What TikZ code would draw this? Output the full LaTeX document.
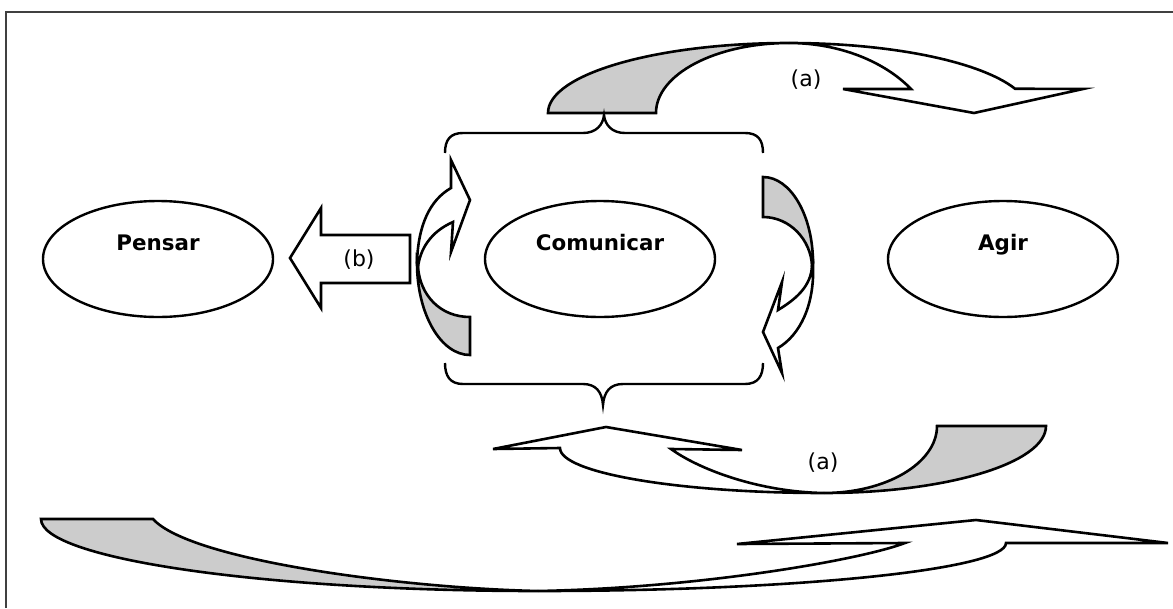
\documentclass[tikz,border=0pt]{standalone}
\usepackage{fontspec}
\setmainfont{DejaVu Sans}
\usetikzlibrary{shapes.geometric}

\begin{document}
\begin{tikzpicture}[x=1pt,y=-1pt,line join=miter,
    bubble/.style={draw,ellipse,line width=2.4pt,minimum width=230pt,minimum height=116pt,inner sep=0pt,
        font=\bfseries\fontsize{21.4}{24}\selectfont,text height=16pt,text depth=34pt},
    tag/.style={anchor=base,inner sep=0pt,font=\fontsize{22}{24}\selectfont},
    band/.style={draw,line width=2.6pt,fill=white},
    back/.style={band,fill=gray!40},
    brace/.style={draw,line width=2.4pt}]

    \useasboundingbox (0,0) rectangle (1173,608);
    \draw[line width=1.5pt,black!75] (6,608) -- (6,12) -- (1173,12);

    % 设置节点(椭圆)
    \node[bubble] (pensar)    at (158,259) {Pensar};
    \node[bubble] (comunicar) at (600,259) {Comunicar};
    \node[bubble] (agir)      at (1003,259) {Agir};

    % 1. 上面的弯箭头 (a)
    \draw[back] (548,113) arc[start angle=180,end angle=270,x radius=241,y radius=70]
        arc[start angle=270,end angle=180,x radius=133,y radius=70] -- cycle;
    \draw[band] (789,43) arc[start angle=270,end angle=339.7,x radius=241,y radius=70]
        -- (1083,89) -- (974,113) -- (843,89) -- (911,89)
        .. controls (885,62) and (840,43) .. (789,43) -- cycle;
    \node[tag] (atop) at (806,86) {(a)};

    % 2. 大括号
    \draw[brace] (445,153) .. controls (445,140) and (450,133) .. (463,133) -- (583,133)
        .. controls (596,133) and (603,125) .. (604,115)
        .. controls (605,125) and (612,133) .. (625,133) -- (745,133)
        .. controls (758,133) and (763,140) .. (763,153);
    \draw[brace] (445,363) .. controls (445,376) and (450,384) .. (463,384) -- (583,384)
        .. controls (596,384) and (602,392) .. (603,405)
        .. controls (604,392) and (610,384) .. (623,384) -- (745,384)
        .. controls (758,384) and (763,376) .. (763,363);

    % 3. 左右两边的弯箭头
    \draw[back] (470,355) arc[start angle=90,end angle=180,x radius=53,y radius=92]
        -- (418,267) .. controls (420,295) and (440,317) .. (470,317) -- cycle;
    \draw[band] (417,263) .. controls (418,225) and (430,200) .. (451,188)
        -- (451,160) -- (470,200) -- (451,252) -- (453,222)
        .. controls (430,232) and (420,250) .. (418,267) -- cycle;
    \draw[back] (763,177) arc[start angle=270,end angle=360,x radius=50,y radius=86]
        -- (812,266) .. controls (811,240) and (790,217) .. (763,217) -- cycle;
    \draw[band] (813,263) .. controls (815,305) and (800,335) .. (778,348)
        -- (782,373) -- (763,332) -- (782,282) -- (778,310)
        .. controls (798,298) and (811,285) .. (812,266) -- cycle;

    % 4. 箭头 (b)
    \draw[band] (290,258) -- (321,208) -- (321,235) -- (410,235) -- (410,283)
        -- (321,283) -- (321,308) -- cycle;
    \node[tag] (b) at (359,266) {(b)};

    % 5. 下面的弯箭头 (a)
    \draw[back] (1046,426) arc[start angle=0,end angle=90,x radius=222,y radius=67]
        arc[start angle=90,end angle=0,x radius=113,y radius=67] -- cycle;
    \draw[band] (560,448) arc[start angle=180,end angle=90,x radius=264,y radius=45]
        .. controls (760,492) and (700,470) .. (671,449)
        -- (742,450) -- (606,427) -- (493,449) -- cycle;
    \node[tag] (abot) at (823,469) {(a)};

    % 6. 最下面的大弯箭头
    \draw[back] (41,519) arc[start angle=180,end angle=90,x radius=497,y radius=72]
        .. controls (400,588) and (190,560) .. (153,519) -- cycle;
    \draw[band] (1006,543) arc[start angle=0,end angle=90,x radius=468,y radius=48]
        .. controls (700,588) and (860,560) .. (905,543)
        -- (737,544) -- (976,520) -- (1168,543) -- cycle;

\end{tikzpicture}
\end{document}
